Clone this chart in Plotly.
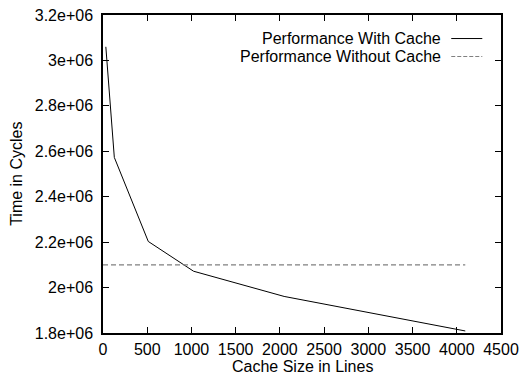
import plotly.graph_objects as go

# Cache size (lines) vs. execution time (cycles)
cache_lines = [32, 128, 512, 1024, 2048, 4096]
cycles_with_cache = [3.06e6, 2.573e6, 2.203e6, 2.072e6, 1.961e6, 1.809e6]

# Baseline without any cache: constant across the sweep
baseline_x = [0, 4096]
cycles_without_cache = [2.1e6, 2.1e6]

series_names = ["Performance With Cache", "Performance Without Cache"]

x_ticks = [0, 500, 1000, 1500, 2000, 2500, 3000, 3500, 4000, 4500]
y_ticks = [1.8e6, 2.0e6, 2.2e6, 2.4e6, 2.6e6, 2.8e6, 3.0e6, 3.2e6]
y_tick_labels = [f"{v:g}" for v in y_ticks]

FONT = "Liberation Sans, Arial, Helvetica, sans-serif"
FS = 16
DASH_COLOR = "#808080"

fig = go.Figure()
fig.add_trace(go.Scatter(
    x=cache_lines, y=cycles_with_cache, mode="lines",
    line=dict(color="black", width=1), name=series_names[0], showlegend=False,
))
fig.add_trace(go.Scatter(
    x=baseline_x, y=cycles_without_cache, mode="lines",
    line=dict(color=DASH_COLOR, width=1.2, dash="5px,3px"),
    name=series_names[1], showlegend=False,
))

# gnuplot-style key: right-aligned text followed by a line sample
key_rows = [(0.926, "black", "solid", 1), (0.8695, DASH_COLOR, "4px,2px", 1.2)]
for name, (yy, col, dash, w) in zip(series_names, key_rows):
    fig.add_annotation(
        xref="paper", yref="paper", x=0.851, y=yy, text=name,
        showarrow=False, xanchor="right", yanchor="middle", borderpad=0,
        font=dict(family=FONT, size=FS, color="black"),
    )
    fig.add_shape(
        type="line", xref="paper", yref="paper",
        x0=0.875, x1=0.953, y0=yy, y1=yy,
        line=dict(color=col, width=w, dash=dash),
    )

# axis titles
fig.add_annotation(
    xref="paper", yref="paper", x=0.5, y=-0.105, text="Cache Size in Lines",
    showarrow=False, xanchor="center", yanchor="middle", borderpad=0,
    font=dict(family=FONT, size=FS, color="black"),
)
fig.add_annotation(
    xref="paper", yref="paper", x=-0.219, y=0.5, text="Time in Cycles",
    textangle=-90, showarrow=False, xanchor="center", yanchor="middle",
    borderpad=0, font=dict(family=FONT, size=FS, color="black"),
)

axis_common = dict(
    showline=True, linecolor="black", linewidth=1.5, mirror="ticks",
    ticks="inside", ticklen=6, tickwidth=1, tickcolor="black",
    showgrid=False, zeroline=False, automargin=False,
    tickfont=dict(family=FONT, size=FS, color="black"),
)

fig.update_xaxes(
    range=[0, 4500], tickvals=x_ticks, ticktext=[str(v) for v in x_ticks],
    ticklabelstandoff=1,
    **axis_common,
)
fig.update_yaxes(
    range=[1.8e6, 3.2e6], tickvals=y_ticks, ticktext=y_tick_labels,
    ticklabelstandoff=5,
    **axis_common,
)

fig.update_layout(
    width=520, height=376,
    margin=dict(l=103, r=19, t=15, b=43),
    paper_bgcolor="white", plot_bgcolor="white",
    font=dict(family=FONT, size=FS, color="black"),
)

fig.write_html("out.html")
